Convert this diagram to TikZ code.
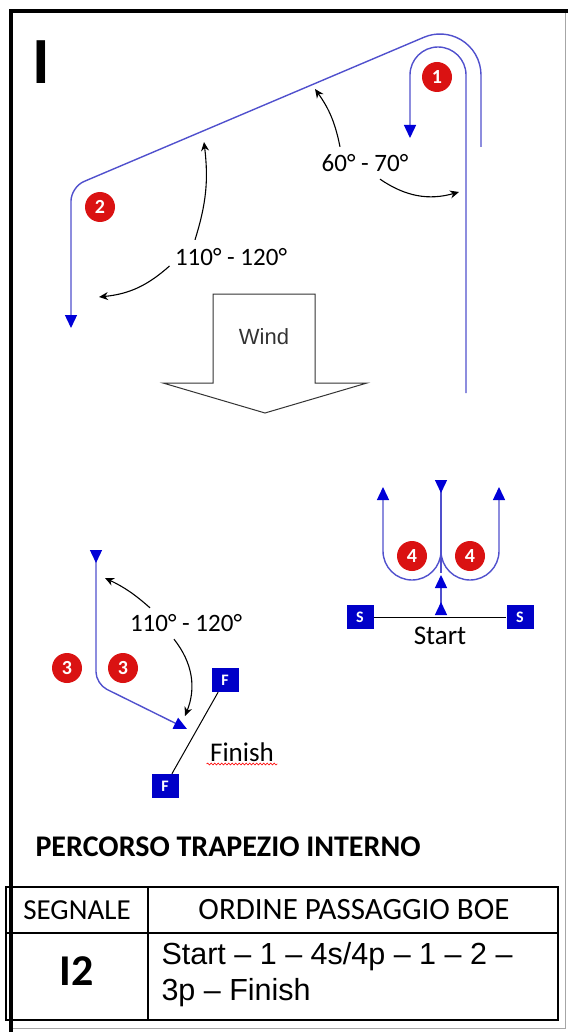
\documentclass[tikz,border=0pt]{standalone}
\usepackage{fontspec}
\setmainfont{Carlito}
\newfontfamily\arialfont{Liberation Sans}
\usetikzlibrary{arrows.meta,decorations.pathmorphing}

\definecolor{coursecol}{RGB}{80,80,205}
\definecolor{tipblue}{RGB}{0,0,215}
\definecolor{buoyred}{RGB}{218,18,18}
\definecolor{boxblue}{RGB}{0,0,200}

\begin{document}
\begin{tikzpicture}[
  x=1pt, y=-1pt,
  course/.style={draw=coursecol, line width=1.4pt},
  endtip/.style={-{Triangle[length=13pt,width=12pt,color=tipblue]}},
  starttip/.style={{Triangle[reversed,length=13pt,width=12pt,color=tipblue]}-},
  bothtip/.style={{Triangle[reversed,length=13pt,width=12pt,color=tipblue]}-{Triangle[length=13pt,width=12pt,color=tipblue]}},
  angarrow/.style={-{Stealth[length=9pt,width=8pt]}, line width=1.1pt, black},
  buoy/.style={circle, fill=buoyred, minimum size=30pt, inner sep=0pt, text=white, font=\bfseries\fontsize{20}{20}\selectfont},
  gate/.style={rectangle, fill=boxblue, minimum width=27pt, minimum height=24pt, inner sep=0pt, text=white, font=\bfseries\fontsize{16}{16}\selectfont},
  anglabel/.style={font=\fontsize{25}{25}\selectfont},
  every node/.style={font=\fontsize{27}{27}\selectfont}
]
  \useasboundingbox (0,0) rectangle (567,1032);

  % frame
  \draw[gray!70, line width=1pt] (11,11) rectangle (565,1028);
  \draw[line width=4.5pt, line cap=rect] (11,1030) -- (11,11) -- (567,11);
  \node[font=\bfseries\fontsize{66}{66}\selectfont] (letter) at (41,62) {I};

  % windward legs, mark 1 and mark 2
  \draw[course, starttip] (481,147) -- (481,75) arc[start angle=0, end angle=-113, radius=41]
    [rounded corners=14] -- (71,187) -- (71,328) [endtip];
  \draw[course, endtip] (466,393) -- (466,75) arc[start angle=0, end angle=-180, radius=28] -- (410,138);
  \node[buoy] (m1) at (437,77) {1};
  \node[buoy] (m2) at (100,207) {2};

  \node[anglabel] (a60) at (365,163) {60° - 70°};
  \coordinate (a60top) at (315,89);
  \coordinate (a60right) at (459,192);
  \draw[angarrow] ([xshift=-25pt,yshift=4pt]a60.north) to[bend right=12] (a60top);
  \draw[angarrow] ([xshift=15pt,yshift=-4pt]a60.south) to[bend right=25] (a60right);

  \node[anglabel] (a110) at (231,257) {110° - 120°};
  \coordinate (a110top) at (204,142);
  \coordinate (a110left) at (99,297);
  \draw[angarrow] ([xshift=-36pt,yshift=5pt]a110.north) to[bend right=12] (a110top);
  \draw[angarrow] ([xshift=-2pt,yshift=-9pt]a110.west) to[bend left=18] (a110left);

  % wind
  \draw[line width=1pt, black!80] (213,383) -- (213,294) -- (315,294) -- (315,383) -- (367,383)
    -- (265,413) -- (163,383) -- cycle;
  \node[font=\arialfont\fontsize{22}{22}\selectfont, text=black!80] (wind) at (264,337) {Wind};

  % start and mark 4
  \draw[course, starttip] (441,480) -- (441,573);
  \draw[course, endtip] (441,551) arc[start angle=0, end angle=180, radius=29] -- (383,487);
  \draw[course, endtip] (441,551) arc[start angle=180, end angle=0, radius=29] -- (499,487);
  \draw[course, bothtip] (441,615) -- (441,575);
  \node[buoy] (m4s) at (412,556) {4};
  \node[buoy] (m4p) at (470,556) {4};
  \node[gate] (s1) at (360,617) {S};
  \node[gate] (s2) at (520,617) {S};
  \draw[line width=1pt] (s1) -- (s2);
  \node (start) at (440,636) {Start};

  % mark 3 and finish
  \draw[course, bothtip] (96,550) [rounded corners=12] -- (96,684) -- (187,729);
  \node[buoy] (m3s) at (67,668) {3};
  \node[buoy] (m3p) at (123,668) {3};
  \node[gate] (f1) at (225,680) {F};
  \node[gate] (f2) at (165,786) {F};
  \draw[line width=1pt] (f1) -- (f2);
  \node (finish) at (242,752) {Finish};
  \draw[red, line width=0.6pt, decorate, decoration={snake, segment length=3.5pt, amplitude=1pt}]
    ([yshift=1pt]finish.south west) -- ([yshift=1pt]finish.south east);

  \node[anglabel] (b110) at (186,623) {110° - 120°};
  \coordinate (b110top) at (105,578);
  \coordinate (b110low) at (185,716);
  \draw[angarrow] ([xshift=-36pt,yshift=3pt]b110.north) to[bend right=8] (b110top);
  \draw[angarrow] ([xshift=-12pt,yshift=-4pt]b110.south) to[bend left=30] (b110low);

  % title and table
  \node[anchor=west, font=\bfseries\fontsize{30}{30}\selectfont] (title) at (32,847) {PERCORSO TRAPEZIO INTERNO};
  \draw[line width=1.5pt] (6,887) rectangle (558,1020);
  \draw[line width=1.2pt] (6,933) -- (558,933);
  \draw[line width=1.2pt] (148,887) -- (148,1020);
  \node[font=\fontsize{29}{29}\selectfont] (hsig) at (77,910) {SEGNALE};
  \node[font=\fontsize{31}{31}\selectfont] (hord) at (354,910) {ORDINE PASSAGGIO BOE};
  \node[font=\bfseries\fontsize{44}{44}\selectfont] (sig) at (77,971) {I2};
  \node[anchor=west, align=left, font=\arialfont\fontsize{30.5}{36}\selectfont] (ord) at (158,975)
    {Start – 1 – 4s/4p – 1 – 2 –\\3p – Finish};
\end{tikzpicture}
\end{document}
